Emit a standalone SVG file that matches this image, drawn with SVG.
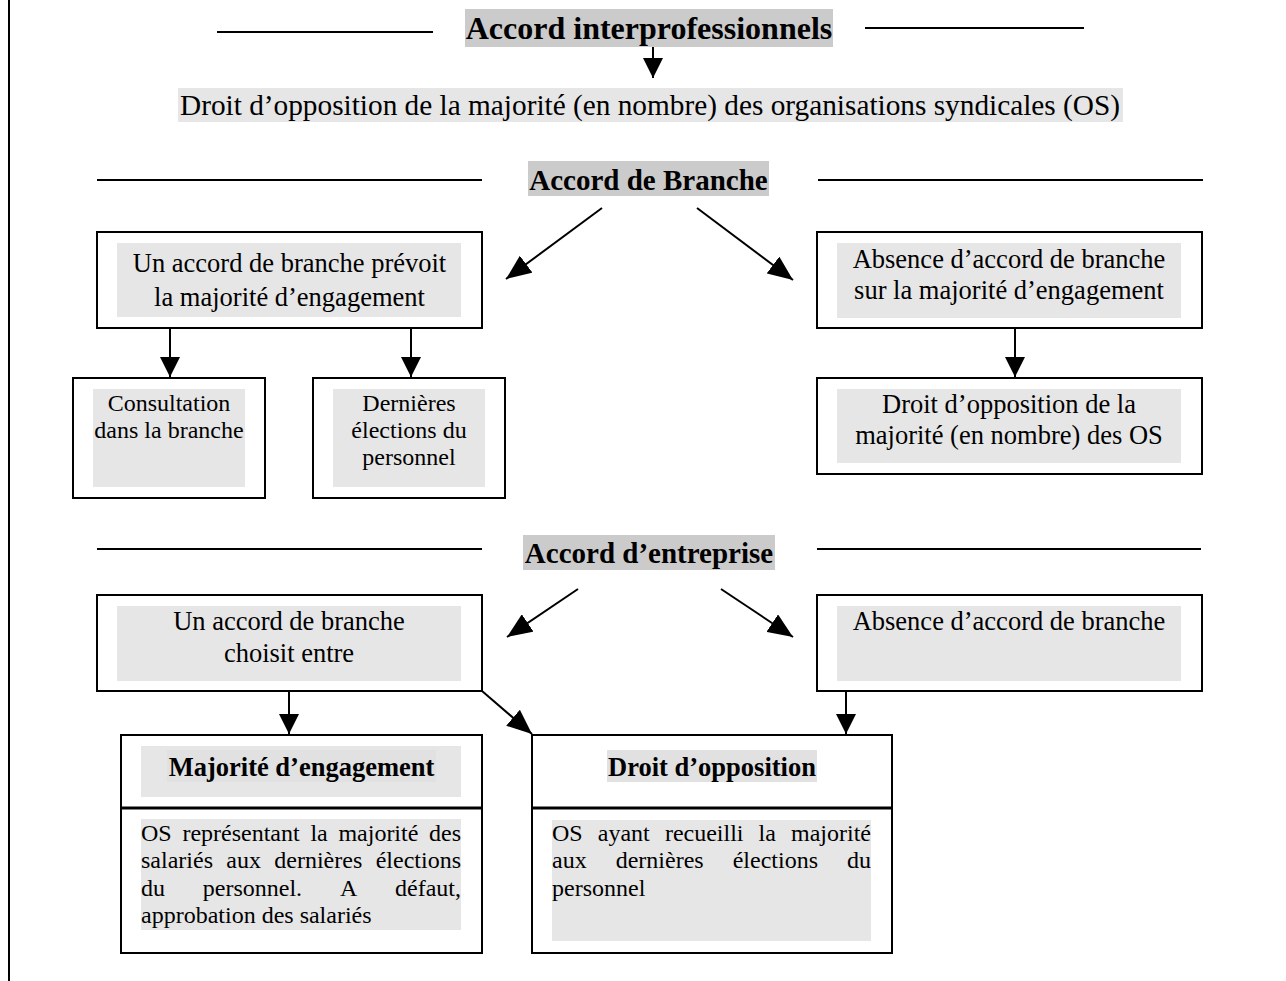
<svg xmlns="http://www.w3.org/2000/svg" width="1286" height="981" viewBox="0 0 1286 981">
<defs>
<style>
.t{font-family:"Liberation Serif","Times New Roman",serif;fill:#000}
.b{font-weight:bold}
.m{text-anchor:middle}
.box{fill:#fff;stroke:#000;stroke-width:2}
.g1{fill:#e6e6e6}
.g3{fill:#e1e1e1}
.g2{fill:#cbcbcb}
.rule{stroke:#000;stroke-width:2}
.conn{stroke:#000;stroke-width:2;fill:none}
.f29{font-size:29.3px}
.f26{font-size:26.5px}
.f24{font-size:24px}
</style>
<marker id="arr" viewBox="0 0 20 20" refX="20" refY="10" markerWidth="20" markerHeight="20" markerUnits="userSpaceOnUse" orient="auto"><path d="M0,0 L20,10 L0,20 Z" fill="#000"/></marker>
<marker id="arrd" viewBox="0 0 25 21" refX="25" refY="10.5" markerWidth="25" markerHeight="21" markerUnits="userSpaceOnUse" orient="auto"><path d="M0,0 L25,10.5 L0,21 Z" fill="#000"/></marker>
</defs>
<rect x="0" y="0" width="1286" height="981" fill="#fff"/>
<line x1="9" y1="0" x2="9" y2="981" class="rule"/>

<g id="title-interpro">
<line x1="217" y1="32" x2="433" y2="32" class="rule"/>
<line x1="865" y1="28" x2="1084" y2="28" class="rule"/>
<rect x="465" y="9" width="368" height="38" class="g2"/>
<text x="649" y="39" class="t b m" font-size="32">Accord interprofessionnels</text>
</g>

<g id="n-droit-opposition-top">
<rect x="178" y="88" width="945" height="34" class="g1"/>
<text x="180" y="115" class="t f29">Droit d’opposition de la majorité (en nombre) des organisations syndicales (OS)</text>
</g>

<g id="title-branche">
<line x1="97" y1="180" x2="482" y2="180" class="rule"/>
<line x1="818" y1="180" x2="1203" y2="180" class="rule"/>
<rect x="528" y="161" width="241" height="35" class="g2"/>
<text x="648.5" y="190" class="t b m" font-size="29">Accord de Branche</text>
</g>

<g id="n-branche-prevoit">
<rect x="97" y="232" width="385" height="96" class="box"/>
<rect x="117" y="243" width="344" height="74" class="g1"/>
<text class="t f26 m"><tspan x="289.5" y="272">Un accord de branche prévoit</tspan><tspan x="289.5" y="306">la majorité d’engagement</tspan></text>
</g>

<g id="n-consultation">
<rect x="73" y="378" width="192" height="120" class="box"/>
<rect x="93" y="389" width="152" height="98" class="g1"/>
<text class="t f24 m"><tspan x="169" y="411">Consultation</tspan><tspan x="169" y="438">dans la branche</tspan></text>
</g>

<g id="n-dernieres">
<rect x="313" y="378" width="192" height="120" class="box"/>
<rect x="333" y="389" width="152" height="98" class="g1"/>
<text class="t f24 m"><tspan x="409" y="411">Dernières</tspan><tspan x="409" y="438">élections du</tspan><tspan x="409" y="465">personnel</tspan></text>
</g>

<g id="n-absence-branche">
<rect x="817" y="232" width="385" height="96" class="box"/>
<rect x="837" y="243" width="344" height="75" class="g1"/>
<text class="t f26 m"><tspan x="1009" y="268">Absence d’accord de branche</tspan><tspan x="1009" y="299">sur la majorité d’engagement</tspan></text>
</g>

<g id="n-droit-opposition-os">
<rect x="817" y="378" width="385" height="96" class="box"/>
<rect x="837" y="389" width="344" height="74" class="g1"/>
<text class="t f26 m"><tspan x="1009" y="413">Droit d’opposition de la</tspan><tspan x="1009" y="444">majorité (en nombre) des OS</tspan></text>
</g>

<g id="title-entreprise">
<line x1="97" y1="549" x2="482" y2="549" class="rule"/>
<line x1="817" y1="549" x2="1201" y2="549" class="rule"/>
<rect x="523" y="535" width="252" height="35" class="g2"/>
<text x="649" y="563" class="t b m" font-size="29">Accord d’entreprise</text>
</g>

<g id="n-choisit">
<rect x="97" y="595" width="385" height="96" class="box"/>
<rect x="117" y="606" width="344" height="75" class="g1"/>
<text class="t f26 m"><tspan x="289" y="630">Un accord de branche</tspan><tspan x="289" y="662">choisit entre</tspan></text>
</g>

<g id="n-absence-entreprise">
<rect x="817" y="595" width="385" height="96" class="box"/>
<rect x="837" y="606" width="344" height="75" class="g1"/>
<text x="1009" y="630" class="t f26 m">Absence d’accord de branche</text>
</g>

<g id="n-majorite">
<rect x="121" y="735" width="361" height="218" class="box"/>
<line x1="121" y1="808" x2="482" y2="808" stroke="#000" stroke-width="3"/>
<rect x="141" y="746" width="320" height="51" class="g1"/>
<rect x="167" y="750" width="269" height="32" class="g3"/>
<text x="301.5" y="776" class="t b f26 m">Majorité d’engagement</text>
<rect x="141" y="819" width="320" height="111" class="g1"/>
<text class="t f24">
<tspan x="141" y="840.5">OS</tspan><tspan x="182.4" y="840.5">représentant</tspan><tspan x="310.4" y="840.5">la</tspan><tspan x="338.4" y="840.5">majorité</tspan><tspan x="429" y="840.5">des</tspan>
<tspan x="141" y="868">salariés</tspan><tspan x="226.3" y="868">aux</tspan><tspan x="274.3" y="868">dernières</tspan><tspan x="375.7" y="868">élections</tspan>
<tspan x="141" y="895.5">du</tspan><tspan x="202.8" y="895.5">personnel.</tspan><tspan x="339.9" y="895.5">A</tspan><tspan x="395" y="895.5">défaut,</tspan>
<tspan x="141" y="923">approbation des salariés</tspan>
</text>
</g>

<g id="n-droit-opposition-entreprise">
<rect x="532" y="735" width="360" height="218" class="box"/>
<line x1="532" y1="808" x2="892" y2="808" stroke="#000" stroke-width="3"/>
<rect x="607" y="750" width="210" height="32" class="g3"/>
<text x="712" y="776" class="t b f26 m">Droit d’opposition</text>
<rect x="552" y="820" width="319" height="121" class="g1"/>
<text class="t f24">
<tspan x="552" y="840.5">OS</tspan><tspan x="597.8" y="840.5">ayant</tspan><tspan x="664.9" y="840.5">recueilli</tspan><tspan x="758.6" y="840.5">la</tspan><tspan x="791" y="840.5">majorité</tspan>
<tspan x="552" y="868">aux</tspan><tspan x="615.7" y="868">dernières</tspan><tspan x="732.7" y="868">élections</tspan><tspan x="847" y="868">du</tspan>
<tspan x="552" y="895.5">personnel</tspan>
</text>
</g>

<g id="connectors">
<line x1="653" y1="47" x2="653" y2="78" class="conn" marker-end="url(#arr)"/>
<line x1="602" y1="208" x2="506" y2="279" class="conn" marker-end="url(#arrd)"/>
<line x1="697" y1="208" x2="793" y2="280" class="conn" marker-end="url(#arrd)"/>
<line x1="170" y1="328" x2="170" y2="377" class="conn" marker-end="url(#arr)"/>
<line x1="411" y1="328" x2="411" y2="377" class="conn" marker-end="url(#arr)"/>
<line x1="1015" y1="328" x2="1015" y2="377" class="conn" marker-end="url(#arr)"/>
<line x1="578" y1="589" x2="507" y2="637" class="conn" marker-end="url(#arrd)"/>
<line x1="721" y1="589" x2="793" y2="637" class="conn" marker-end="url(#arrd)"/>
<line x1="289" y1="691" x2="289" y2="734" class="conn" marker-end="url(#arr)"/>
<line x1="482" y1="691" x2="532" y2="734" class="conn" marker-end="url(#arrd)"/>
<line x1="846" y1="691" x2="846" y2="734" class="conn" marker-end="url(#arr)"/>
</g>
</svg>
